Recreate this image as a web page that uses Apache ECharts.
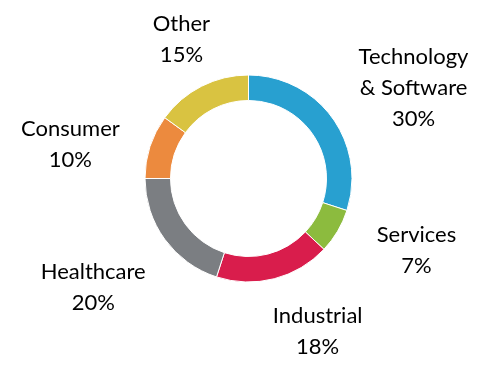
<!DOCTYPE html>
<html>
<head>
<meta charset="utf-8">
<script src="https://cdn.jsdelivr.net/npm/echarts@6/dist/echarts.min.js"></script>
<style>
html,body{margin:0;padding:0;background:#fff;}
#chart{width:480px;height:372px;}
</style>
</head>
<body>
<div id="chart"></div>
<script>
const categories = ['Technology\n& Software', 'Services', 'Industrial', 'Healthcare', 'Consumer', 'Other'];
const shares = [30, 7, 18, 20, 10, 15];
const colors = ['#28a0d0', '#8cbb3e', '#d91d4c', '#7b7e82', '#ec8a3e', '#d9c341'];
// label line lengths (layout only): [radial length, horizontal length]
const labelOffsets = [[51, 40], [37, 47], [54, 30], [81, 6], [7, 73], [53, -4]];

const chart = echarts.init(document.getElementById('chart'), null, {renderer: 'canvas'});
const data = categories.map((c, i) => ({
  name: c,
  value: shares[i],
  itemStyle: {color: colors[i]},
  labelLine: {show: false, length: labelOffsets[i][0], length2: labelOffsets[i][1]}
}));
chart.setOption({
  animation: false,
  series: [{
    type: 'pie',
    center: [248.5, 178.5],
    radius: [78, 103.5],
    startAngle: 90,
    clockwise: true,
    avoidLabelOverlap: false,
    itemStyle: {borderColor: '#ffffff', borderWidth: 1},
    label: {
      show: true,
      position: 'outside',
      distanceToLabelLine: 0,
      formatter: p => p.name + '\n' + p.value + '%',
      fontFamily: 'Lato',
      fontSize: 22,
      lineHeight: 31,
      color: '#000000',
      align: 'center'
    },
    labelLayout: () => ({align: 'center', verticalAlign: 'middle'}),
    data: data
  }]
});
</script>
</body>
</html>
